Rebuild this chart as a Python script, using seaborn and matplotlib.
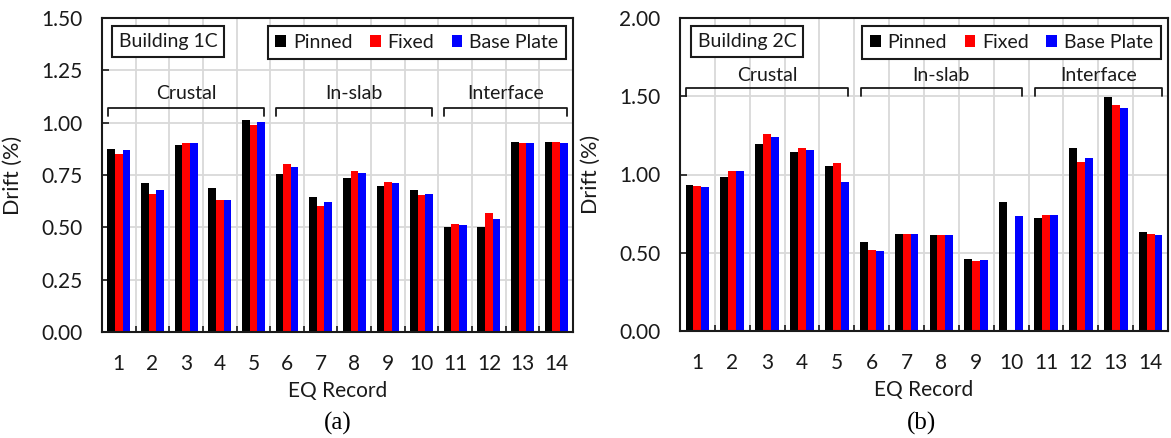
import numpy as np
import pandas as pd
import matplotlib
matplotlib.use("Agg")
import matplotlib.pyplot as plt
from matplotlib.patches import Patch
from matplotlib.ticker import FormatStrFormatter
import seaborn as sns

# ---- data -------------------------------------------------------------
records = [str(r) for r in range(1, 15)]
conditions = ["Pinned", "Fixed", "Base Plate"]
colors = ["#000000", "#ff0000", "#0000ff"]

# Building 1C peak drift (%)
b1_pinned = [0.873, 0.713, 0.893, 0.686, 1.013, 0.756, 0.645, 0.734, 0.696, 0.678, 0.503, 0.503, 0.909, 0.909]
b1_fixed = [0.850, 0.658, 0.901, 0.631, 0.987, 0.803, 0.602, 0.769, 0.717, 0.653, 0.514, 0.567, 0.901, 0.909]
b1_base = [0.868, 0.678, 0.901, 0.631, 1.003, 0.790, 0.623, 0.761, 0.712, 0.658, 0.511, 0.538, 0.901, 0.905]

# Building 2C peak drift (%)  (no Fixed result for record 10)
b2_pinned = [0.935, 0.986, 1.195, 1.142, 1.052, 0.569, 0.618, 0.611, 0.462, 0.826, 0.724, 1.167, 1.497, 0.635]
b2_fixed = [0.927, 1.022, 1.257, 1.167, 1.071, 0.516, 0.618, 0.611, 0.445, np.nan, 0.741, 1.078, 1.442, 0.620]
b2_base = [0.920, 1.022, 1.238, 1.155, 0.952, 0.511, 0.618, 0.611, 0.452, 0.737, 0.741, 1.108, 1.425, 0.613]

# earthquake source groups (first and last record of each)
groups = ["Crustal", "In-slab", "Interface"]
group_first = [1, 6, 11]
group_last = [5, 10, 14]

# ---- style ------------------------------------------------------------
sns.set_style("white")
plt.rcParams["font.family"] = ["Lato", "DejaVu Sans"]
plt.rcParams["text.color"] = "#1a1a1a"
plt.rcParams["axes.labelcolor"] = "#1a1a1a"
plt.rcParams["xtick.color"] = "#1a1a1a"
plt.rcParams["ytick.color"] = "#1a1a1a"

FS = 14
TICK_FS = 15
GRID = "#d9d9d9"

W, H = 1171, 438
fig = plt.figure(figsize=(W / 100, H / 100), dpi=100)


def px_axes(x0, x1, y0, y1):
    return fig.add_axes([x0 / W, 1 - y1 / H, (x1 - x0) / W, (y1 - y0) / H])


def draw_panel(ax, series, title, ymax, ystep, br_top, br_tip, label_y):
    rows = []
    for cond, vals in zip(conditions, series):
        for rec, v in zip(records, vals):
            rows.append({"record": rec, "condition": cond, "drift": v})
    df = pd.DataFrame(rows).dropna()

    sns.barplot(data=df, x="record", y="drift", hue="condition",
                order=records, hue_order=conditions, palette=colors,
                width=0.68, saturation=1, errorbar=None, linewidth=0,
                legend=False, ax=ax)

    ax.set_xlim(-0.5, len(records) - 0.5)
    ax.set_ylim(0, ymax)
    ax.set_yticks(np.arange(0, ymax + 1e-9, ystep))
    ax.yaxis.set_major_formatter(FormatStrFormatter("%.2f"))
    ax.set_xticks(np.arange(-0.5, len(records), 1), minor=True)

    ax.set_axisbelow(True)
    ax.grid(which="minor", axis="x", color=GRID, lw=1.3)
    ax.grid(which="major", axis="y", color=GRID, lw=1.3)
    ax.grid(which="major", axis="x", visible=False)

    ax.tick_params(axis="x", which="major", length=0, pad=16, labelsize=TICK_FS)
    ax.tick_params(axis="x", which="minor", direction="in", length=4,
                   width=1.2, bottom=True, top=False, color="#1a1a1a")
    ax.tick_params(axis="y", which="major", direction="in", length=5,
                   width=1.2, pad=14, labelsize=TICK_FS, left=True)
    for s in ax.spines.values():
        s.set_visible(True)
        s.set_color("#1a1a1a")
        s.set_linewidth(1.5)

    ax.set_xlabel("EQ Record", fontsize=TICK_FS, labelpad=5)
    ax.set_ylabel("Drift (%)", fontsize=TICK_FS + 0.5)
    ax.yaxis.set_label_coords(-0.168, 0.5)

    # group brackets
    inset = 0.18
    for name, a, b in zip(groups, group_first, group_last):
        x0 = a - 1 - 0.5 + inset
        x1 = b - 1 + 0.5 - inset
        ax.plot([x0, x0, x1, x1], [br_tip, br_top, br_top, br_tip],
                color="#1a1a1a", lw=1.3, solid_joinstyle="round",
                solid_capstyle="round", zorder=3)
        ax.text((x0 + x1) / 2, label_y, name, ha="center", va="center",
                fontsize=FS)

    # building tag
    ax.text(0.036, 0.925, title, transform=ax.transAxes, ha="left",
            va="center", fontsize=FS,
            bbox=dict(boxstyle="square,pad=0.35", fc="white", ec="#1a1a1a",
                      lw=1.5))

    handles = [Patch(facecolor=c, edgecolor="none", label=l)
               for c, l in zip(colors, conditions)]
    leg = ax.legend(handles=handles, loc="upper right", ncol=3,
                    bbox_to_anchor=(1 - 7 / 471, 1 - 8 / 314),
                    borderaxespad=0, frameon=True, fancybox=False,
                    framealpha=1, edgecolor="#1a1a1a", fontsize=FS,
                    handlelength=0.55, handleheight=0.55,
                    handletextpad=0.35, columnspacing=0.9, borderpad=0.4)
    leg.get_frame().set_linewidth(1.5)


ax1 = px_axes(102, 573, 18, 332)
draw_panel(ax1, [b1_pinned, b1_fixed, b1_base], "Building 1C",
           1.5, 0.25, 1.07, 1.03, 1.14)

ax2 = px_axes(680, 1168, 18, 331)
draw_panel(ax2, [b2_pinned, b2_fixed, b2_base], "Building 2C",
           2.0, 0.5, 1.553, 1.50, 1.63)
ax2.yaxis.set_label_coords(-0.163, 0.5)

fig.text(337.5 / W, 1 - 423 / H, "(a)", ha="center", va="center",
         fontsize=18, family="Liberation Serif", color="black")
fig.text(921 / W, 1 - 423 / H, "(b)", ha="center", va="center",
         fontsize=18, family="Liberation Serif", color="black")

fig.savefig("out.png", dpi=100)
